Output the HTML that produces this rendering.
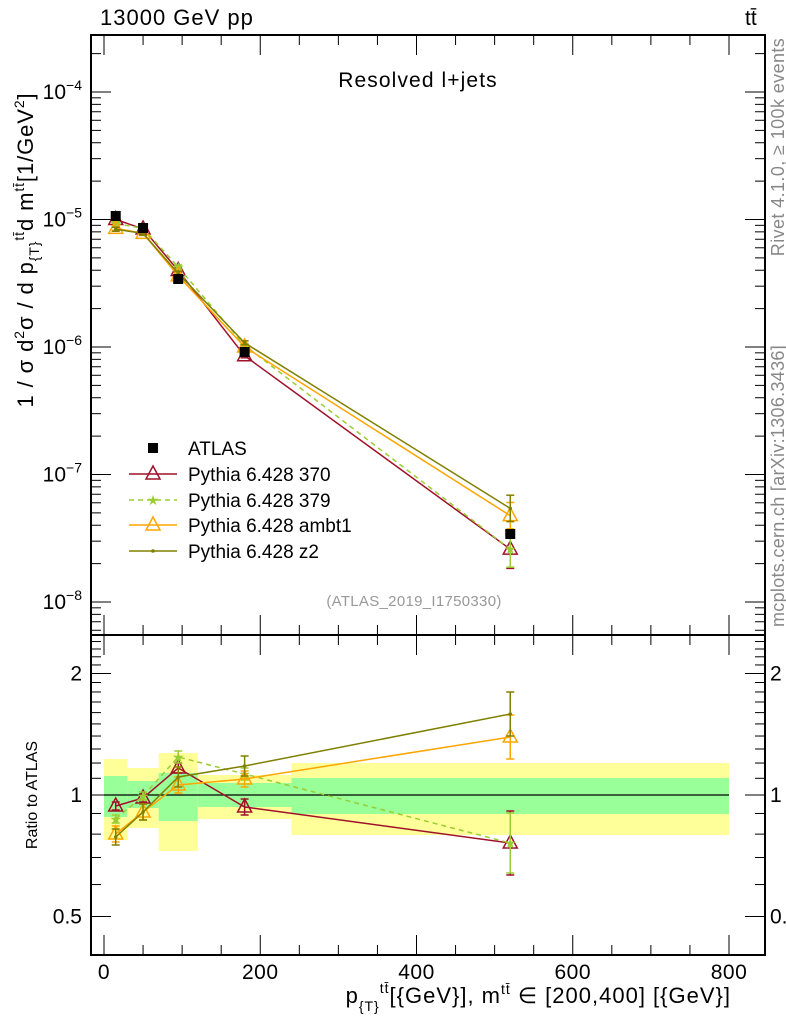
<!DOCTYPE html>
<html><head><meta charset="utf-8"><style>
html,body{margin:0;padding:0;background:#fff;}
svg{display:block;font-family:"Liberation Sans",sans-serif;}
</style></head><body>
<svg id="s" width="786" height="1024" xmlns="http://www.w3.org/2000/svg">
<g id="bands"></g>
<g id="axes" stroke="#000" fill="none"></g>
<g id="data"></g>
<text x="100" y="25" font-size="22" letter-spacing="1">13000 GeV pp</text>
<text x="745" y="25" font-size="21">tt̄</text>
<text x="418" y="87" font-size="21" letter-spacing="1.1" text-anchor="middle">Resolved l+jets</text>
<text x="414" y="606" font-size="15" letter-spacing="0.3" fill="#999" text-anchor="middle">(ATLAS_2019_I1750330)</text>
<text transform="translate(784,147) rotate(-90)" font-size="18" letter-spacing="0.4" fill="#888" text-anchor="middle">Rivet 4.1.0, ≥ 100k events</text>
<text transform="translate(784,486) rotate(-90)" font-size="18" letter-spacing="0.3" fill="#888" text-anchor="middle">mcplots.cern.ch [arXiv:1306.3436]</text>
<text transform="translate(33,250) rotate(-90)" font-size="22" letter-spacing="0.9" text-anchor="middle">1 / σ d<tspan font-size="14" dy="-9">2</tspan><tspan dy="9">σ / d p</tspan><tspan font-size="14" dy="6">{T}</tspan><tspan font-size="14" dy="-15">tt̄</tspan><tspan dy="9">d m</tspan><tspan font-size="14" dy="-9">tt̄</tspan><tspan dy="9">[1/GeV</tspan><tspan font-size="14" dy="-9">2</tspan><tspan dy="9">]</tspan></text>
<text transform="translate(37,795) rotate(-90)" font-size="16" text-anchor="middle">Ratio to ATLAS</text>
<text x="731" y="1003" font-size="22" letter-spacing="1" text-anchor="end">p<tspan font-size="14" dy="8">{T}</tspan><tspan font-size="14" dy="-18">tt̄</tspan><tspan dy="10">[{GeV}], m</tspan><tspan font-size="14" dy="-9">tt̄</tspan><tspan dy="9"> ∈ [200,400] [{GeV}]</tspan></text>
<g id="legend" font-size="19"></g>
</svg>
<script>
const NS="http://www.w3.org/2000/svg";
function el(p,t,a,txt){const e=document.createElementNS(NS,t);for(const k in a)e.setAttribute(k,a[k]);if(txt!=null)e.textContent=txt;document.getElementById(p).appendChild(e);return e;}
const L=91,R=765,T=35,M=635,B=955;
const X=v=>104+v*0.78125;
const YM=v=>92+(-4-Math.log10(v))*127.5;
const YR=r=>795-Math.log2(r)*121.5;
const RY=y=>Math.pow(2,(795-y)/121.5);
const edges=[0,30,70,120,240,800];
const yel=[[759,840],[768,828],[753,851],[775,819],[763,835]];
const grn=[[776,817],[781,808],[773,821],[783,807],[778,814]];
for(let i=0;i<5;i++){
 el("bands","rect",{x:X(edges[i]),y:yel[i][0],width:X(edges[i+1])-X(edges[i]),height:yel[i][1]-yel[i][0],fill:"#ffff99"});
 el("bands","rect",{x:X(edges[i]),y:grn[i][0],width:X(edges[i+1])-X(edges[i]),height:grn[i][1]-grn[i][0],fill:"#99ff99"});
}
el("axes","line",{x1:X(0),x2:X(800),y1:795,y2:795,"stroke-width":1.3});
el("axes","rect",{x:L,y:T,width:R-L,height:M-T,"stroke-width":2});
el("axes","rect",{x:L,y:M,width:R-L,height:B-M,"stroke-width":2});
for(let d=-9;d<=-4;d++){for(let k=1;k<10;k++){const v=k*Math.pow(10,d);const y=YM(v);if(y<T||y>M)continue;const len=k==1?20:10;
 el("axes","line",{x1:L,x2:L+len,y1:y,y2:y});el("axes","line",{x1:R,x2:R-len,y1:y,y2:y});}}
[-4,-5,-6,-7,-8].forEach(d=>{const t=el("axes","text",{x:82,y:YM(Math.pow(10,d))+7,"font-size":21,"text-anchor":"end",fill:"#000",stroke:"none"},"10");
 const s=document.createElementNS(NS,"tspan");s.setAttribute("font-size",14);s.setAttribute("dy",-9);s.textContent=String(d).replace("-","−");t.appendChild(s);});
for(let r=0.4;r<=2.45;r+=0.1){const y=YR(r);if(y<M||y>B)continue;const maj=[0.5,1,2].some(v=>Math.abs(v-r)<1e-6);const len=maj?20:10;
 el("axes","line",{x1:L,x2:L+len,y1:y,y2:y});el("axes","line",{x1:R,x2:R-len,y1:y,y2:y});}
[[2,"2"],[1,"1"],[0.5,"0.5"]].forEach(([v,s])=>{el("axes","text",{x:82,y:YR(v)+7,"font-size":21,"text-anchor":"end",fill:"#000",stroke:"none"},s);
 el("axes","text",{x:770,y:YR(v)+7,"font-size":21,fill:"#000",stroke:"none"},s);});
for(let v=0;v<=800;v+=50){const x=X(v);const len=v%200==0?20:10;
 [T,M].forEach(y0=>{el("axes","line",{x1:x,x2:x,y1:y0,y2:y0+len});});
 [M,B].forEach(y0=>{el("axes","line",{x1:x,x2:x,y1:y0,y2:y0-len});});}
[0,200,400,600,800].forEach(v=>el("axes","text",{x:X(v),y:979,"font-size":21,"letter-spacing":0.5,"text-anchor":"middle",fill:"#000",stroke:"none"},String(v)));
const xs=[15,50,95,180,520];
const aty=[216,228,279,352,534];
const atv=aty.map(y=>Math.pow(10,-4-(y-92)/127.5));
const series=[
 {c:"#a0102a",m:"tri",ry:[806,798,768,807,843],e:[4,4,5,8,32],dash:null},
 {c:"#9acd32",m:"star",ry:[819,796,757,774,843],e:[4,4,6,6,30],dash:"5,4"},
 {c:"#ffa500",m:"tri",ry:[834,812,785,779,737],e:[8,8,8,8,22],dash:null},
 {c:"#808000",m:"dot",ry:[837,812,777,766,714],e:[8,8,10,10,22],dash:null},
];
function marker(g,m,x,y,c){
 if(m=="tri")el(g,"polygon",{points:`${x},${y-8} ${x-7},${y+5} ${x+7},${y+5}`,fill:"none",stroke:c,"stroke-width":1.5});
 else if(m=="star")el(g,"text",{x:x,y:y+5,"font-size":14,"text-anchor":"middle",fill:c},"★");
 else el(g,"circle",{cx:x,cy:y,r:1.8,fill:c});
}
series.forEach(s=>{
 const r=s.ry.map(RY);
 const mv=r.map((v,i)=>YM(atv[i]*v));
 const ptsR=xs.map((v,i)=>X(v)+","+s.ry[i]).join(" ");
 const ptsM=xs.map((v,i)=>X(v)+","+mv[i]).join(" ");
 const a={fill:"none",stroke:s.c,"stroke-width":1.5};if(s.dash)a["stroke-dasharray"]=s.dash;
 el("data","polyline",Object.assign({points:ptsR},a));
 el("data","polyline",Object.assign({points:ptsM},a));
 xs.forEach((v,i)=>{const x=X(v);
  [[s.ry[i],s.e[i]],[mv[i],i==4?s.e[i]*0.6:2]].forEach(([y,e])=>{
   el("data","line",{x1:x,x2:x,y1:y-e,y2:y+e,stroke:s.c,"stroke-width":1.5});
   el("data","line",{x1:x-4,x2:x+4,y1:y-e,y2:y-e,stroke:s.c,"stroke-width":1.5});
   el("data","line",{x1:x-4,x2:x+4,y1:y+e,y2:y+e,stroke:s.c,"stroke-width":1.5});
   marker("data",s.m,x,y,s.c);});
 });
});
xs.forEach((v,i)=>el("data","rect",{x:X(v)-5,y:aty[i]-5,width:10,height:10,fill:"#000"}));
const ly=[448,474,500,525,551];
el("legend","rect",{x:148,y:ly[0]-5,width:10,height:10,fill:"#000"});
el("legend","text",{x:188,y:ly[0]+7},"ATLAS");
const names=["Pythia 6.428 370","Pythia 6.428 379","Pythia 6.428 ambt1","Pythia 6.428 z2"];
series.forEach((s,i)=>{const y=ly[i+1];const a={x1:129,x2:177,y1:y,y2:y,stroke:s.c,"stroke-width":1.5};if(s.dash)a["stroke-dasharray"]=s.dash;
 el("legend","line",a);marker("legend",s.m,153,y,s.c);el("legend","text",{x:188,y:y+7},names[i]);});
</script>
</body></html>
